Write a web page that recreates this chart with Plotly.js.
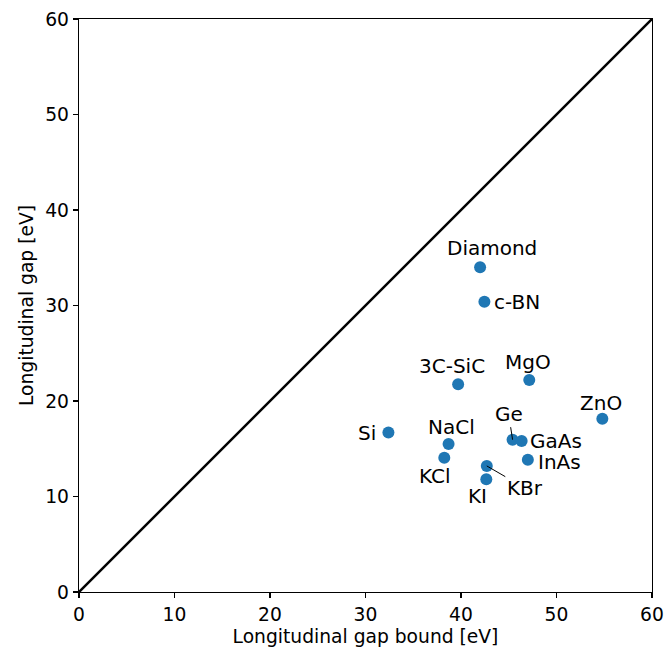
<!DOCTYPE html>
<html><head><meta charset="utf-8">
<script src="https://cdn.plot.ly/plotly-3.0.1.min.js"></script>
<style>html,body{margin:0;padding:0;background:#fff}</style>
</head><body><div id="chart" style="width:667px;height:653px"></div>
<script>
const materials = ["Diamond","c-BN","3C-SiC","MgO","ZnO","Si","NaCl","KCl","Ge","GaAs","InAs","KBr","KI"];
const gapBound = [42.0, 42.45, 39.7, 47.15, 54.8, 32.4, 38.7, 38.25, 45.4, 46.35, 47.0, 42.7, 42.65];
const longGap  = [34.0, 30.4, 21.75, 22.2, 18.15, 16.7, 15.5, 14.05, 15.95, 15.8, 13.85, 13.2, 11.8];
// label offsets in pixels (dx right, dy down) and whether a leader line is drawn
const labelDx = [12, 33, -6, -1, -1, -21, 3, -9, -4, 34, 32, 38, -9];
const labelDy = [-19, 0, -18, -18, -16, 0, -17, 18, -26, 0, 2, 22, 17];
const leader  = [false,false,false,false,false,false,false,false,true,false,false,true,false];
const diagX = [0, 60], diagY = [0, 60];

const font = "DejaVu Sans, sans-serif";
const annotations = materials.map((m, i) => leader[i] ? {
  x: gapBound[i], y: longGap[i], xref: 'x', yref: 'y', text: m,
  showarrow: true, arrowhead: 0, arrowwidth: 1, arrowcolor: '#000', standoff: 0,
  ax: labelDx[i], ay: labelDy[i], font: {family: font, size: 20, color: '#000'}
} : {
  x: gapBound[i], y: longGap[i], xref: 'x', yref: 'y', text: m, showarrow: false,
  xshift: labelDx[i], yshift: -labelDy[i], xanchor: 'center', yanchor: 'middle',
  font: {family: font, size: 20, color: '#000'}
});

const axis = (title) => ({
  range: [0, 60], tickvals: [0,10,20,30,40,50,60], showgrid: false, zeroline: false,
  showline: true, mirror: true, linecolor: '#000', linewidth: 1.3,
  ticks: 'outside', ticklen: 5, tickwidth: 1.3, tickcolor: '#000',
  tickfont: {family: font, size: 18.7, color: '#000'},
  title: {text: title, font: {family: font, size: 18.7, color: '#000'}, standoff: 6}
});

Plotly.newPlot('chart', [
  {x: diagX, y: diagY, mode: 'lines', line: {color: '#000', width: 2.5}, hoverinfo: 'skip'},
  {x: gapBound, y: longGap, mode: 'markers', marker: {color: '#1f77b4', size: 12}, text: materials}
], {
  width: 667, height: 653, showlegend: false,
  margin: {l: 79, r: 15, t: 19, b: 61},
  paper_bgcolor: '#fff', plot_bgcolor: '#fff',
  xaxis: axis('Longitudinal gap bound [eV]'),
  yaxis: axis('Longitudinal gap [eV]'),
  annotations: annotations
}, {staticPlot: true});
</script></body></html>
